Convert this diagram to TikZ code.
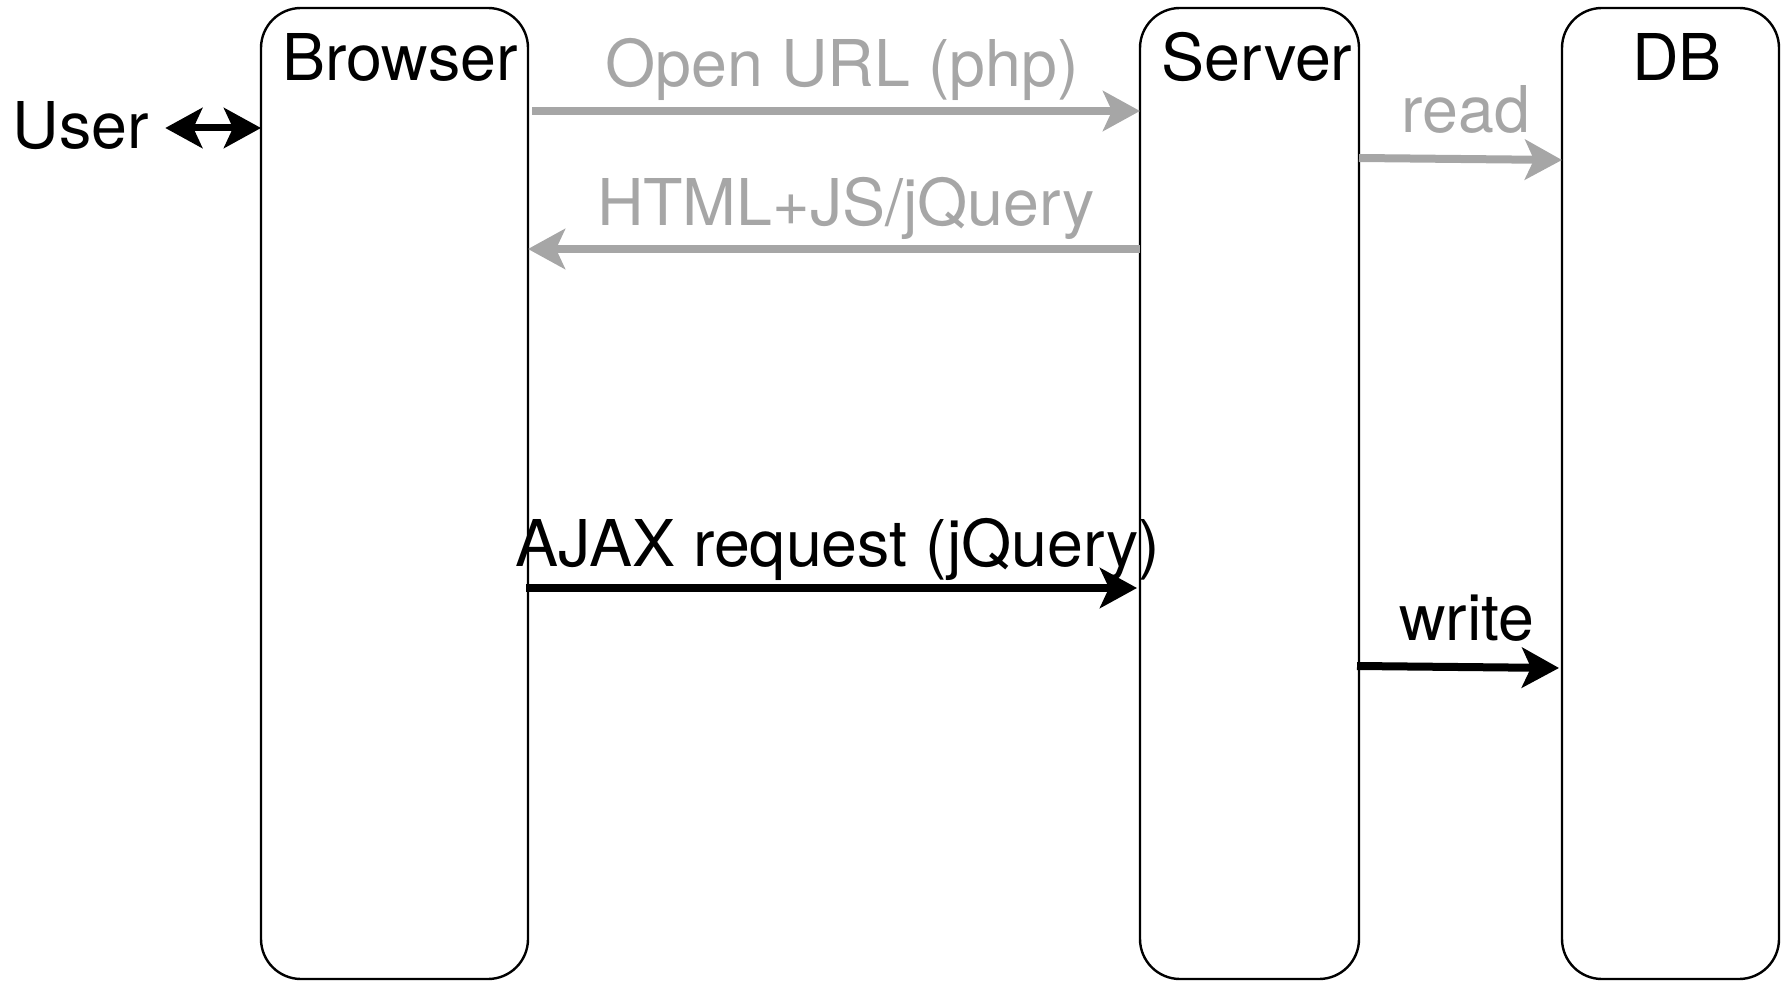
\documentclass[tikz,border=0pt]{standalone}
\usepackage{fontspec}
\setmainfont{TeX Gyre Heros}
\usetikzlibrary{arrows.meta}
\definecolor{flowgray}{RGB}{166,166,166}
\tikzset{
  lane/.style={draw=black, line width=2.4pt, rounded corners=40pt, inner sep=0pt, outer sep=0pt,
    minimum height=971pt},
  title/.style={font=\fontsize{64.5}{70}\selectfont, inner sep=0pt, anchor=base},
  bigtip/.tip={Stealth[length=37pt,width=40pt,inset=9pt]},
  graymsg/.style={draw=flowgray, line width=8pt, -bigtip},
  blackmsg/.style={draw=black, line width=8pt, -bigtip},
}
\begin{document}
\begin{tikzpicture}[x=1pt,y=-1pt]
\useasboundingbox (0,0) rectangle (1781,981);

% lifelines
\node[lane, minimum width=267pt] (browser) at (394.5,493.5) {};
\node[lane, minimum width=219pt] (server) at (1249.5,493.5) {};
\node[lane, minimum width=217pt] (db) at (1670.5,493.5) {};

% lifeline titles
\node[title] (browsertitle) at (400,81) {Browser};
\node[title] (servertitle) at (1257,81) {Server};
\node[title] (dbtitle) at (1677,81) {DB};
\node[title] (user) at (81,149) {User};

% user <-> browser
\draw[draw=black, line width=7pt, bigtip-bigtip]
  (user.east |- 0,128) ++(16,0) coordinate (userend) -- (browser.west |- 0,128);

% page load
\draw[graymsg] ([xshift=4pt]browser.east |- 0,111) -- (server.west |- 0,111);
\node[title, text=flowgray] (openlbl) at (842,87) {Open URL (php)};

\draw[graymsg] (server.west |- 0,249) -- (browser.east |- 0,249);
\node[title, text=flowgray] (htmllbl) at (846,226) {HTML+JS/jQuery};

\draw[graymsg] (server.east |- 0,158) -- (db.west |- 0,160);
\node[title, text=flowgray] (readlbl) at (1466,133) {read};

% ajax call
\draw[blackmsg] ([xshift=-2pt]browser.east |- 0,588) -- ([xshift=-3pt]server.west |- 0,588);
\node[title] (ajaxlbl) at (838,566) {AJAX request (jQuery)};

\draw[blackmsg] ([xshift=-2pt]server.east |- 0,666) -- ([xshift=-3pt]db.west |- 0,668);
\node[title] (writelbl) at (1467,640) {write};
\end{tikzpicture}
\end{document}
